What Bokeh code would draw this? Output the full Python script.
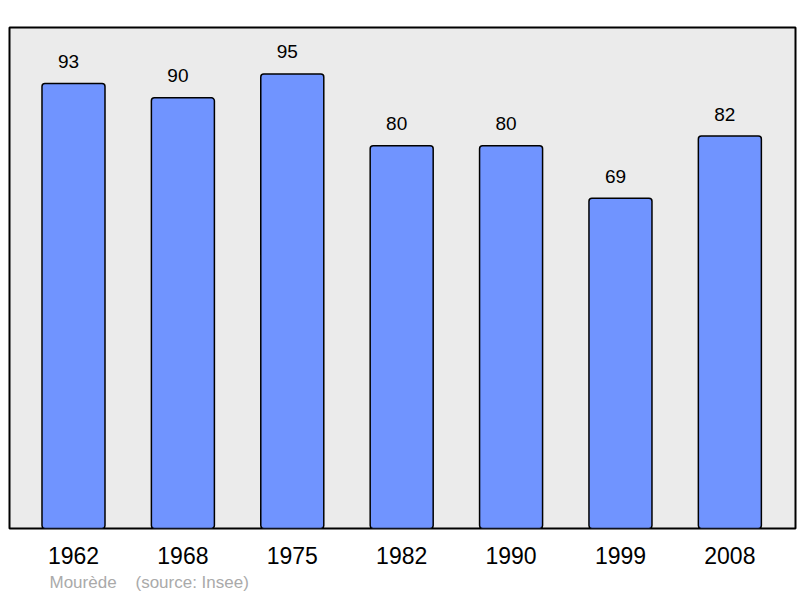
from bokeh.plotting import figure
from bokeh.models import ColumnDataSource, Range1d, FixedTicker, Title
from bokeh.core.properties import value
from bokeh.embed import file_html
from bokeh.resources import INLINE

years = ["1962", "1968", "1975", "1982", "1990", "1999", "2008"]
population = [93, 90, 95, 80, 80, 69, 82]
commune = "Mourède"
source_note = "(source: Insee)"

idx = list(range(len(years)))
src = ColumnDataSource(dict(x=idx, top=population, lab=[str(v) for v in population]))

p = figure(width=800, height=598, output_backend="svg", toolbar_location=None,
           x_range=Range1d(-0.585, len(years) - 1 + 0.6), y_range=Range1d(0, 104.7),
           min_border_left=9, min_border_right=5, min_border_top=27, min_border_bottom=70)
p.background_fill_color = "#ebebeb"
p.border_fill_color = "white"
p.outline_line_color = "black"
p.outline_line_width = 2
p.grid.visible = False
p.yaxis.visible = False

p.vbar(x="x", top="top", width=0.576, bottom=0, source=src,
       fill_color="#7094ff", line_color="black", line_width=1.5, border_radius=3)

p.text(x="x", y="top", text="lab", source=src, x_offset=-5, y_offset=-22,
       text_align="center", text_baseline="alphabetic",
       text_font=value("Liberation Sans"), text_font_size="19px", text_color="black")

ax = p.xaxis[0]
ax.ticker = FixedTicker(ticks=idx)
ax.major_label_overrides = {i: y for i, y in zip(idx, years)}
ax.axis_line_color = None
ax.major_tick_line_color = None
ax.minor_tick_line_color = None
ax.major_tick_out = 0
ax.major_label_standoff = 18
ax.major_label_text_font = "Liberation Sans"
ax.major_label_text_font_size = "23px"
ax.major_label_text_color = "black"

footer = Title(text=commune + "\u00a0" * 4 + source_note, align="left", offset=40,
               text_font="Liberation Sans", text_font_size="17px",
               text_font_style="normal", text_color="#aaaaaa", standoff=8)
p.add_layout(footer, "below")

open("out.html", "w").write(file_html(p, INLINE))
